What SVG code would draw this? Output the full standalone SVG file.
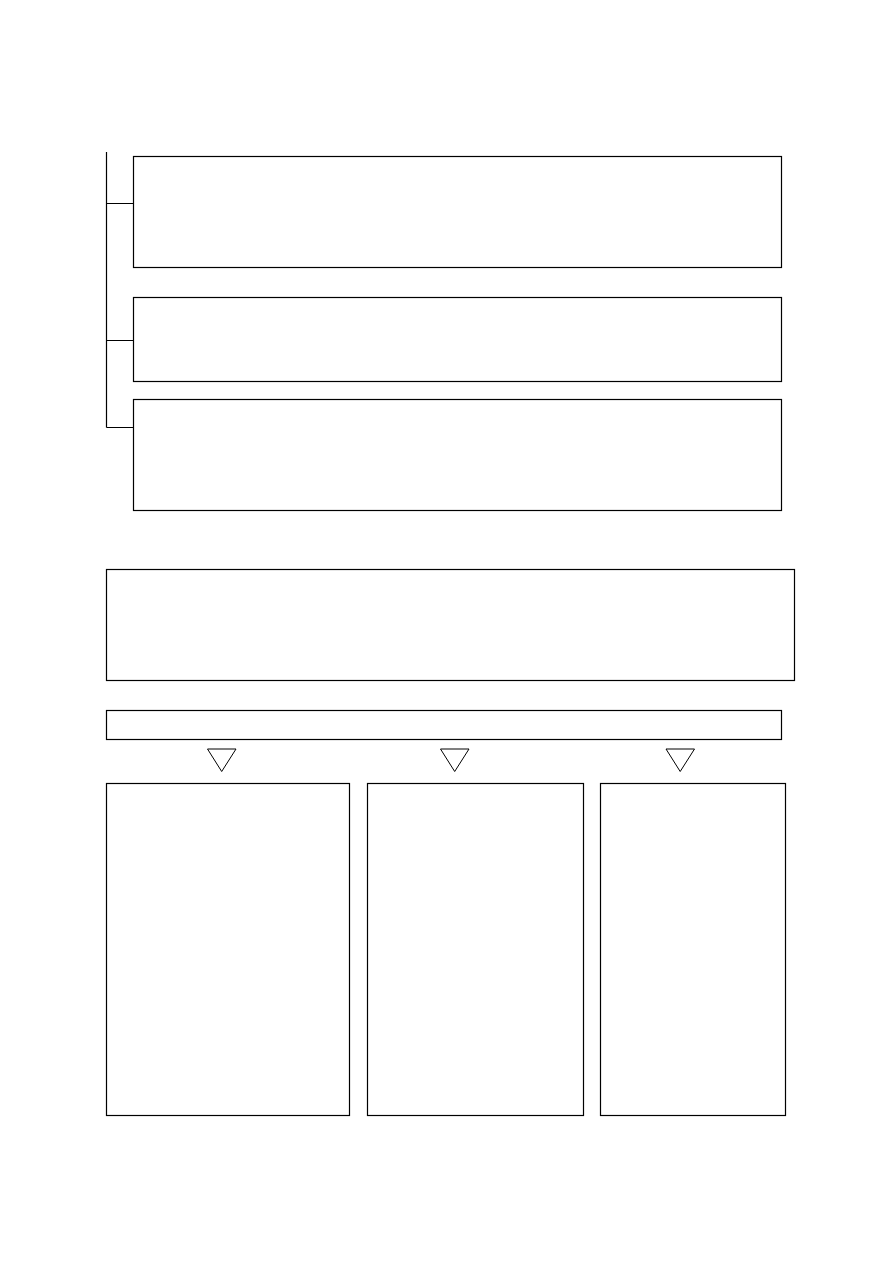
<svg xmlns="http://www.w3.org/2000/svg" width="893" height="1263" viewBox="0 0 893 1263">
<style>
.box{fill:#fff;stroke:#000;stroke-width:1.2}
.ln{fill:none;stroke:#000;stroke-width:1.2}
.tri{fill:#fff;stroke:#000;stroke-width:1}
</style>
<rect width="893" height="1263" fill="#fff"/>
<g id="connectors">
<path class="ln" d="M106.5 152 V427.5 M106.5 203.5 H133.5 M106.5 340.5 H133.5 M106.5 427.5 H133.5"/>
</g>
<g id="node1"><rect class="box" x="133.5" y="156.5" width="648" height="111"/></g>
<g id="node2"><rect class="box" x="133.5" y="297.5" width="648" height="84"/></g>
<g id="node3"><rect class="box" x="133.5" y="399.5" width="648" height="111"/></g>
<g id="node4"><rect class="box" x="106.5" y="569.5" width="688" height="111"/></g>
<g id="node5"><rect class="box" x="106.5" y="710.5" width="675" height="29"/></g>
<g id="arrows">
<polygon class="tri" points="207.5,749 236,749 221.7,771.5"/>
<polygon class="tri" points="440.5,749 469,749 454.7,771.5"/>
<polygon class="tri" points="666,749 694.5,749 680.2,771.5"/>
</g>
<g id="node6"><rect class="box" x="106.5" y="783.5" width="243" height="332"/></g>
<g id="node7"><rect class="box" x="367.5" y="783.5" width="216" height="332"/></g>
<g id="node8"><rect class="box" x="600.5" y="783.5" width="185" height="332"/></g>
</svg>
